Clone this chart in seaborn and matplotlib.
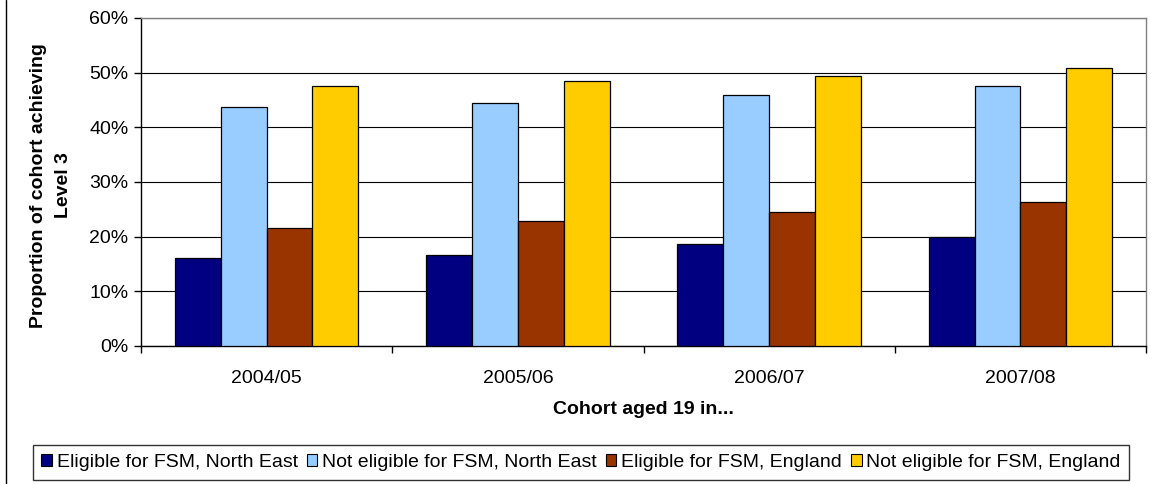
import numpy as np
import pandas as pd
import seaborn as sns
import matplotlib.pyplot as plt
from matplotlib.lines import Line2D
from matplotlib.patches import Patch
from matplotlib.ticker import PercentFormatter, FixedLocator

cohorts = ["2004/05", "2005/06", "2006/07", "2007/08"]
series = [
    "Eligible for FSM, North East",
    "Not eligible for FSM, North East",
    "Eligible for FSM, England",
    "Not eligible for FSM, England",
]
fsm_ne = [16.1, 16.6, 18.6, 19.9]
non_fsm_ne = [43.8, 44.5, 46.0, 47.5]
fsm_eng = [21.6, 22.8, 24.5, 26.3]
non_fsm_eng = [47.5, 48.4, 49.4, 50.9]
colors = ["#000080", "#99ccff", "#993300", "#ffcc00"]

rows = []
for name, vals in zip(series, [fsm_ne, non_fsm_ne, fsm_eng, non_fsm_eng]):
    for c, v in zip(cohorts, vals):
        rows.append({"cohort": c, "series": name, "value": v})
df = pd.DataFrame(rows)

sns.set_style("white", {"text.color": "black", "axes.labelcolor": "black",
                        "xtick.color": "black", "ytick.color": "black"})
plt.rcParams['font.family'] = ['Liberation Sans', 'DejaVu Sans']

W, H = 1150, 484
fs = 14
fig = plt.figure(figsize=(W / 100, H / 100), dpi=100)
ax = fig.add_axes([141 / W, 1 - 346 / H, (1146 - 141) / W, (346 - 18) / H])

sns.barplot(data=df, x="cohort", y="value", hue="series", palette=colors,
            saturation=1, width=0.73, gap=0, edgecolor="black", linewidth=0.9,
            legend=False, ax=ax, zorder=3)

ax.set_ylim(0, 60)
ax.set_xlim(-0.5, 3.5)
ax.yaxis.set_major_locator(FixedLocator(np.arange(0, 61, 10)))
ax.yaxis.set_major_formatter(PercentFormatter(decimals=0))
ax.grid(axis="y", color="black", linewidth=0.8, zorder=0)
ax.set_axisbelow(True)

for side in ["left", "bottom"]:
    ax.spines[side].set_color("black")
    ax.spines[side].set_linewidth(1)
for side in ["top", "right"]:
    ax.spines[side].set_color("#808080")
    ax.spines[side].set_linewidth(1)

ax.tick_params(axis="y", direction="out", length=5, width=1, color="black",
               labelsize=fs, labelcolor="black", pad=4, left=True)
ax.tick_params(axis="x", which="major", length=0, labelsize=fs,
               labelcolor="black", pad=17)
ax.set_xticks(np.arange(-0.5, 3.6, 1), minor=True)
ax.tick_params(axis="x", which="minor", direction="out", length=5, width=1,
               color="black", bottom=True)

ax.set_xlabel("Cohort aged 19 in...", fontsize=fs, fontweight="bold", color="black")
ax.xaxis.set_label_coords(0.5, -(409 - 346) / 328, transform=ax.transAxes)
ax.xaxis.label.set_va("center")
ax.set_ylabel("Proportion of cohort achieving\nLevel 3", fontsize=fs,
              fontweight="bold", color="black", linespacing=1.6)
ax.yaxis.set_label_coords((51 - 141) / 1005, 0.49)
ax.yaxis.label.set_va("center")

handles = [Patch(facecolor=c, edgecolor="black", linewidth=0.8) for c in colors]
leg = fig.legend(handles, series, loc="center", ncol=4,
                 bbox_to_anchor=(581 / W, 1 - 462.5 / H), frameon=True,
                 fontsize=fs, handlelength=0.55, handleheight=0.6,
                 handletextpad=0.25, columnspacing=0.45, borderpad=0.45,
                 borderaxespad=0, fancybox=False)
leg.get_frame().set_edgecolor("black")
leg.get_frame().set_linewidth(1)

fig.add_artist(Line2D([6 / W, 6 / W], [0, 1], color="black", linewidth=1))

fig.savefig("out.png", dpi=100)
